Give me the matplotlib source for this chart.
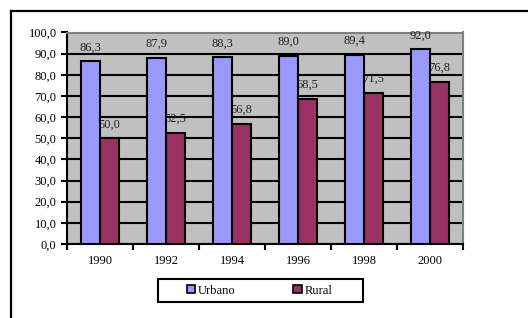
import matplotlib
matplotlib.use("Agg")
import matplotlib.pyplot as plt
from matplotlib.patches import Patch, Rectangle
from matplotlib.lines import Line2D

years = ["1990", "1992", "1994", "1996", "1998", "2000"]
urbano = [86.3, 87.9, 88.3, 89.0, 89.4, 92.0]
rural = [50.0, 52.5, 56.8, 68.5, 71.5, 76.8]
series_names = ["Urbano", "Rural"]
yticks = [0, 10, 20, 30, 40, 50, 60, 70, 80, 90, 100]

c_urb = "#9999FF"
c_rur = "#993366"
FS = 9

plt.rcParams["font.family"] = ["Liberation Serif", "DejaVu Serif"]

W, H = 528, 318
fig = plt.figure(figsize=(W / 100, H / 100), dpi=100)

def fx(px):
    return px / W

def fy(py):
    return 1 - py / H

# outer frame lines
fig.add_artist(Line2D([fx(11), fx(11)], [fy(11), fy(330)], color="black", lw=1.6, transform=fig.transFigure))
fig.add_artist(Line2D([fx(11), fx(540)], [fy(11), fy(11)], color="black", lw=1.6, transform=fig.transFigure))

ax = fig.add_axes([fx(67), fy(244), (463 - 67) / W, (244 - 32.5) / H])
ax.set_facecolor("#C0C0C0")

x = list(range(len(years)))
bw = 0.29
xu = [i - bw / 2 for i in x]
xr = [i + bw / 2 for i in x]
ax.bar(xu, urbano, width=bw, color=c_urb, edgecolor="black", linewidth=1.5, zorder=4)
ax.bar(xr, rural, width=bw, color=c_rur, edgecolor="black", linewidth=1.5, zorder=3)

for xi, v in zip(xu, urbano):
    ax.annotate(f"{v:.1f}".replace(".", ","), (xi, v), xytext=(0, 10), textcoords="offset points",
                ha="center", va="center", fontsize=FS, color="#222222", zorder=5)
for xi, v in zip(xr, rural):
    ax.annotate(f"{v:.1f}".replace(".", ","), (xi, v), xytext=(0, 10), textcoords="offset points",
                ha="center", va="center", fontsize=FS, color="#222222", zorder=3.5)

ax.set_xlim(-0.5, len(years) - 0.5)
ax.set_ylim(0, 100)
ax.set_yticks(yticks)
ax.set_yticklabels([f"{v:.1f}".replace(".", ",") for v in yticks], fontsize=FS)
ax.yaxis.grid(True, color="black", linewidth=1.5, zorder=1)
ax.set_axisbelow(True)

ax.set_xticks([i - 0.5 for i in range(len(years) + 1)])
ax.set_xticklabels([])
ax.set_xticks(x, minor=True)
ax.set_xticklabels(years, minor=True, fontsize=FS)
ax.tick_params(axis="x", which="minor", length=0, pad=8)
ax.tick_params(axis="x", which="major", length=4, width=1.5, direction="out")
ax.tick_params(axis="y", length=4, width=1.5, direction="out", pad=3.5)

for s in ["left", "bottom"]:
    ax.spines[s].set_color("black")
    ax.spines[s].set_linewidth(1.5)
for s in ["top", "right"]:
    ax.spines[s].set_color("#808080")
    ax.spines[s].set_linewidth(1.5)

# legend box
fig.add_artist(Rectangle((fx(158), fy(302)), (363 - 158) / W, (302 - 279) / H,
                         transform=fig.transFigure, facecolor="white", edgecolor="black",
                         linewidth=1.5, zorder=5))
handles = [Patch(facecolor=c_urb, edgecolor="black", linewidth=1.2),
           Patch(facecolor=c_rur, edgecolor="black", linewidth=1.2)]
leg = fig.legend(handles, series_names, ncol=2, loc="center left",
                 bbox_to_anchor=(fx(187), fy(290.5)),
                 fontsize=FS, frameon=False,
                 handlelength=0.65, handleheight=0.65,
                 handletextpad=0.25, columnspacing=4.6, borderaxespad=0, borderpad=0)
leg.set_zorder(6)

fig.savefig("out.png", dpi=100)
